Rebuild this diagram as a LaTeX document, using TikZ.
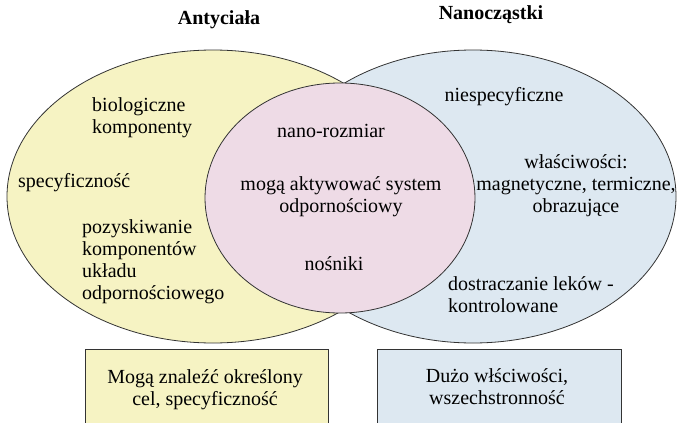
\documentclass[tikz,border=0pt]{standalone}
\usepackage{fontspec}
\setmainfont{Liberation Serif}
\usetikzlibrary{shapes.geometric}
\definecolor{yel}{HTML}{F6F3C3}
\definecolor{pnk}{HTML}{EEDBE6}
\definecolor{blu}{HTML}{DDE8F1}
\definecolor{edge}{HTML}{333333}
\tikzset{
  set/.style={ellipse, draw=edge, line width=0.8pt, inner sep=0pt},
  txt/.style={font=\fontsize{20}{22}\selectfont, text=black, inner sep=0pt},
  ttl/.style={font=\fontsize{20}{22}\selectfont\bfseries, inner sep=0pt},
  box/.style={draw=edge, line width=0.8pt}
}
\begin{document}
\begin{tikzpicture}[x=1pt,y=-1pt]
\clip (0,0) rectangle (678,423);
\fill[white] (0,0) rectangle (678,423);
\node[set, fill=yel, minimum width=412pt, minimum height=293pt] (ant) at (213,196.5) {};
\node[set, fill=blu, minimum width=406pt, minimum height=293pt] (nano) at (473,196.5) {};
\node[set, fill=pnk, minimum width=270pt, minimum height=230pt] (both) at (340,198) {};
\node[ttl] (t1) at (219,20) {Antyciała};
\node[ttl] (t2) at (491,15) {Nanocząstki};
\node[txt, align=left, anchor=west] (a1) at (92,118) {biologiczne\\komponenty};
\node[txt, anchor=west] (a2) at (18,183) {specyficzność};
\node[txt, align=left, anchor=west] (a3) at (82,262) {pozyskiwanie\\komponentów\\układu\\odpornościowego};
\node[txt] (p1) at (331,131) {nano-rozmiar};
\node[txt, align=center] (p2) at (341,197) {mogą aktywować system\\odpornościowy};
\node[txt] (p3) at (334,264) {nośniki};
\node[txt] (b1) at (504,97) {niespecyficzne};
\node[txt, align=center] (b2) at (576,186) {właściwości:\\magnetyczne, termiczne,\\obrazujące};
\node[txt, align=left, anchor=west] (b3) at (448,295) {dostraczanie leków -\\kontrolowane};
\draw[box, fill=yel] (85,349) rectangle (328,440);
\draw[box, fill=blu] (377,349) rectangle (621,440);
\node[txt, align=center] (y1) at (205,390) {Mogą znaleźć określony\\cel, specyficzność};
\node[txt, align=center] (n1) at (497,387) {Dużo włściwości,\\wszechstronność};
\end{tikzpicture}
\end{document}
